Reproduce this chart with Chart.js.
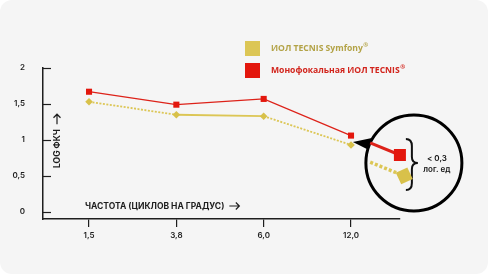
<!DOCTYPE html>
<html>
<head>
<meta charset="utf-8">
<script src="https://cdn.jsdelivr.net/npm/chart.js"></script>
<style>
  body { margin: 0; background: #fff; }
  .card { width: 488px; height: 274px; background: #f5f5f5; border-radius: 12px; overflow: hidden; }
  canvas { display: block; }
</style>
</head>
<body>
<div class="card"><canvas id="chart" width="488" height="274"></canvas></div>
<script>
// частоты (циклов на градус)
const frequencies = ["1,5", "3,8", "6,0", "12,0"];
const xPositions = [0, 1, 2, 3];
const yTicks = [0, 0.5, 1, 1.5, 2];

// LOG ФКЧ
const symfonyValues = [1.53, 1.35, 1.33, 0.93];
const monofocalValues = [1.67, 1.49, 1.57, 1.06];

// лупа: увеличенный участок после 12,0
const zoomMonoX = [3.22, 3.56];
const zoomMonoY = [0.96, 0.79];
const zoomSymX = [3.22, 3.61];
const zoomSymY = [0.69, 0.5];
const lensCenter = [3.72, 0.68];

const legendLabels = ["ИОЛ TECNIS Symfony", "Монофокальная ИОЛ TECNIS"];
const RED = "#dd2219";
const YELLOW = "#dcc655";
const INK = "#1e1e1e";

function pairs(xs, ys) {
    return xs.map((x, i) => ({ x: x, y: ys[i] }));
}

// стрелка →, рисуем линией
function arrow(ctx, x0, y0, len) {
    ctx.beginPath();
    ctx.moveTo(x0, y0);
    ctx.lineTo(x0 + len, y0);
    ctx.moveTo(x0 + len - 3.5, y0 - 3.5);
    ctx.lineTo(x0 + len, y0);
    ctx.lineTo(x0 + len - 3.5, y0 + 3.5);
    ctx.stroke();
}

// 🔎 рисуем круг-лупу, подписи и легенду
const decorPlugin = {
    id: "decor",
    beforeDatasetsDraw(chart) {
        const { ctx, scales: { x, y } } = chart;
        const cx = x.getPixelForValue(lensCenter[0]);
        const cy = y.getPixelForValue(lensCenter[1]);

        // тики оси Y внутрь
        ctx.save();
        ctx.strokeStyle = INK;
        ctx.lineWidth = 1.2;
        yTicks.forEach(v => {
            const py = Math.round(y.getPixelForValue(v)) + 0.5;
            ctx.beginPath();
            ctx.moveTo(x.left, py);
            ctx.lineTo(x.left + 8, py);
            ctx.stroke();
        });

        // стрелка-указатель
        ctx.fillStyle = "#000";
        ctx.beginPath();
        ctx.moveTo(cx - 61, cy - 21);
        ctx.lineTo(cx - 42, cy - 25);
        ctx.lineTo(cx - 45, cy - 13);
        ctx.closePath();
        ctx.fill();

        // круг
        ctx.beginPath();
        ctx.arc(cx, cy, 48, 0, Math.PI * 2);
        ctx.fillStyle = "#f5f5f5";
        ctx.fill();
        ctx.lineWidth = 3;
        ctx.strokeStyle = "#000";
        ctx.stroke();

        // фигурная скобка
        ctx.lineWidth = 2;
        ctx.strokeStyle = "#111";
        ctx.beginPath();
        ctx.moveTo(cx - 8, cy - 24);
        ctx.quadraticCurveTo(cx - 2, cy - 24, cx - 2, cy - 17);
        ctx.lineTo(cx - 2, cy - 6);
        ctx.quadraticCurveTo(cx - 2, cy, cx + 4, cy);
        ctx.quadraticCurveTo(cx - 2, cy, cx - 2, cy + 6);
        ctx.lineTo(cx - 2, cy + 20);
        ctx.quadraticCurveTo(cx - 2, cy + 27, cx - 8, cy + 27);
        ctx.stroke();

        ctx.fillStyle = "#111";
        ctx.font = "600 8px Inter";
        ctx.textAlign = "center";
        ctx.textBaseline = "middle";
        ctx.fillText("< 0,3", cx + 23, cy - 4);
        ctx.fillText("лог. ед", cx + 23, cy + 7);
        ctx.restore();
    },
    afterDraw(chart) {
        const { ctx, scales: { x, y } } = chart;
        ctx.save();
        ctx.fillStyle = INK;
        ctx.strokeStyle = INK;
        ctx.lineWidth = 1.2;
        ctx.font = "bold 8.5px Inter";
        ctx.textBaseline = "middle";
        ctx.textAlign = "left";
        const xTitle = "ЧАСТОТА (ЦИКЛОВ НА ГРАДУС)";
        const tx = x.left + 42, ty = y.bottom - 13;
        ctx.fillText(xTitle, tx, ty);
        arrow(ctx, tx + ctx.measureText(xTitle).width + 5, ty, 10);

        ctx.translate(x.left + 14, y.getPixelForValue(0.61));
        ctx.rotate(-Math.PI / 2);
        ctx.fillText("LOG ФКЧ", 0, 0);
        arrow(ctx, ctx.measureText("LOG ФКЧ").width + 5, 0, 10);
        ctx.restore();

        // легенда
        ctx.save();
        const colors = [YELLOW, "#e3170d"];
        const textColors = ["#b3a347", "#d2241c"];
        ctx.textBaseline = "middle";
        legendLabels.forEach((label, i) => {
            const top = 41 + i * 22;
            ctx.fillStyle = colors[i];
            ctx.fillRect(245, top, 15, 15);
            ctx.fillStyle = textColors[i];
            ctx.font = "bold 8.6px 'Open Sans'";
            ctx.fillText(label, 271, top + 7.5);
            const w = ctx.measureText(label).width;
            ctx.font = "bold 6px 'Open Sans'";
            ctx.fillText("®", 271 + w + 0.5, top + 4.5);
        });
        ctx.restore();
    }
};

new Chart(document.getElementById("chart"), {
    type: "line",
    data: {
        datasets: [
            {
                label: legendLabels[1],
                data: pairs(xPositions, monofocalValues),
                borderColor: RED,
                borderWidth: 1.3,
                pointStyle: "rect",
                pointRadius: 4.3,
                pointBackgroundColor: "#e3170d",
                pointBorderWidth: 0
            },
            {
                label: legendLabels[0],
                data: pairs(xPositions, symfonyValues),
                borderColor: YELLOW,
                borderWidth: 1.8,
                segment: {
                    borderDash: c => c.p0DataIndex === 1 ? [] : [2, 1.5]
                },
                pointStyle: "rectRot",
                pointRadius: 3.8,
                pointBackgroundColor: "#d8c14a",
                pointBorderWidth: 0
            },
            {
                data: pairs(zoomMonoX, zoomMonoY),
                borderColor: RED,
                borderWidth: 3,
                pointStyle: "rect",
                pointRadius: [0, 8.5],
                pointBackgroundColor: "#e3170d",
                pointBorderWidth: 0,
                clip: false
            },
            {
                data: pairs(zoomSymX, zoomSymY),
                borderColor: YELLOW,
                borderWidth: 3.5,
                borderDash: [3, 2],
                pointStyle: "rectRot",
                pointRotation: 20,
                pointRadius: [0, 9],
                pointBackgroundColor: "#d8c14a",
                pointBorderWidth: 0,
                clip: false
            }
        ]
    },
    options: {
        responsive: false,
        animation: false,
        layout: { padding: { top: 68, right: 88, left: 0, bottom: 0 } },
        plugins: { legend: { display: false }, tooltip: { enabled: false } },
        scales: {
            x: {
                type: "linear",
                min: -0.527,
                max: 3.561,
                afterBuildTicks: s => { s.ticks = xPositions.map(v => ({ value: v })); },
                afterFit: s => { s.height = 55; },
                grid: { drawOnChartArea: false, drawTicks: true, tickLength: 8, color: INK, lineWidth: 1.2 },
                border: { display: true, color: INK, width: 1.5 },
                ticks: {
                    padding: 4,
                    color: INK,
                    font: { family: "Inter", size: 8, weight: "600" },
                    callback: (v, i) => frequencies[i]
                }
            },
            y: {
                min: -0.1,
                max: 2,
                afterBuildTicks: s => { s.ticks = yTicks.map(v => ({ value: v })); },
                afterFit: s => { s.width = 43; },
                grid: { display: false },
                border: { display: true, color: INK, width: 1.5 },
                ticks: {
                    padding: 10,
                    color: INK,
                    font: { family: "Inter", size: 8, weight: "600" },
                    callback: v => String(v).replace(".", ",")
                }
            }
        }
    },
    plugins: [decorPlugin]
});
</script>
</body>
</html>
